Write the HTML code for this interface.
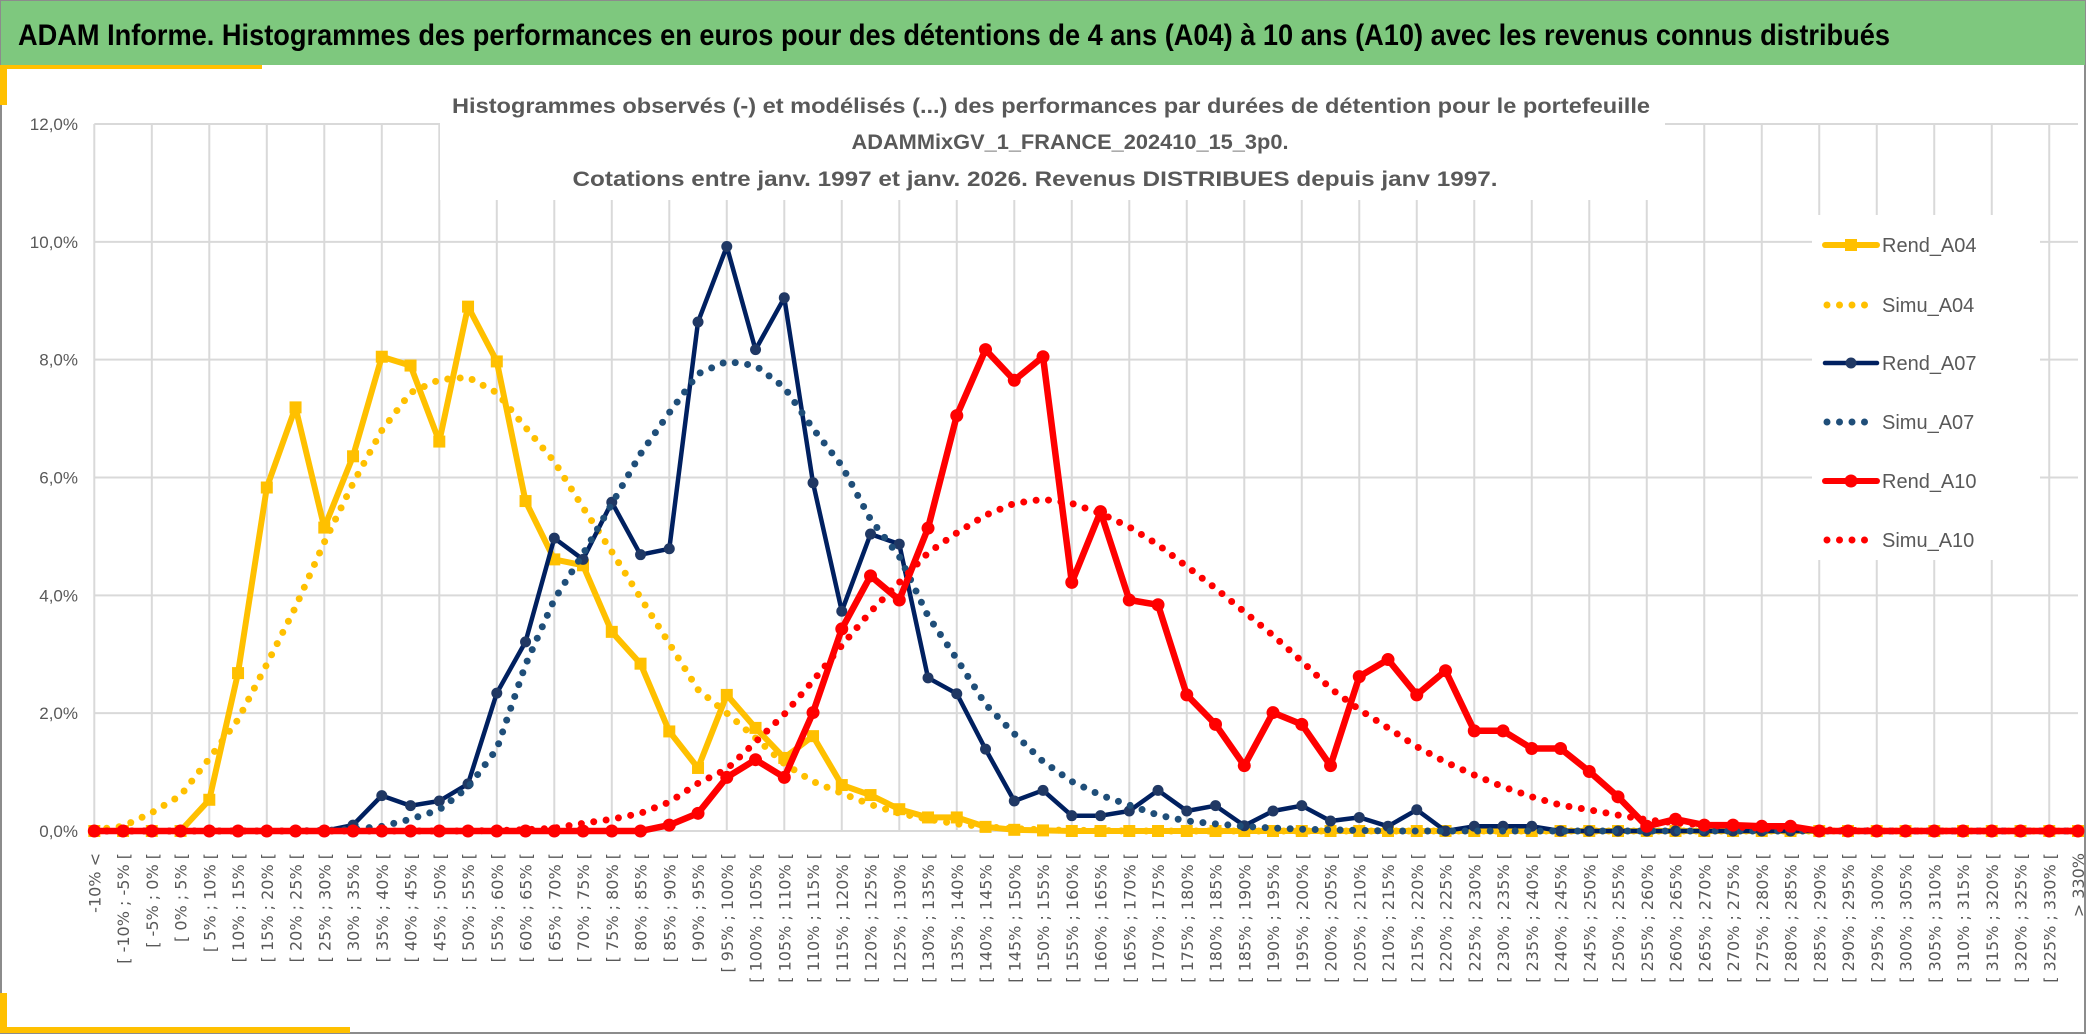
<!DOCTYPE html>
<html><head><meta charset="utf-8"><style>
html,body{margin:0;padding:0;background:#fff;}
svg{display:block;}
</style></head><body>
<svg id="chart" width="2086" height="1034" viewBox="0 0 2086 1034" xmlns="http://www.w3.org/2000/svg">
<rect x="0" y="0" width="2086" height="1034" fill="#fff"/>
<rect x="1" y="1" width="2084" height="1032" fill="none" stroke="#8c8c8c" stroke-width="2"/>
<rect x="1" y="1" width="2084" height="64" fill="#7ec87e"/>
<text x="18" y="45" font-family="Liberation Sans, sans-serif" font-weight="bold" font-size="30" fill="#000" textLength="1872" lengthAdjust="spacingAndGlyphs">ADAM Informe. Histogrammes des performances en euros pour des détentions de 4 ans (A04) à 10 ans (A10) avec les revenus connus distribués</text>
<rect x="0" y="65" width="262" height="4" fill="#ffc000"/>
<rect x="0" y="65" width="7" height="40" fill="#ffc000"/>
<rect x="0" y="1027" width="350" height="6" fill="#ffc000"/>
<rect x="0" y="993" width="7" height="40" fill="#ffc000"/>
<g id="grid"></g>
<g id="ylabels"></g>
<g id="xlabels"></g>
<rect x="440" y="86" width="1225" height="114" fill="#fff"/>
<g font-family="Liberation Sans, sans-serif" font-weight="bold" font-size="21" fill="#595959" text-anchor="middle">
<text x="1051" y="113" textLength="1198" lengthAdjust="spacingAndGlyphs">Histogrammes observés (-) et modélisés (...) des performances  par durées de détention pour le portefeuille</text>
<text x="1070" y="149" textLength="437" lengthAdjust="spacingAndGlyphs">ADAMMixGV_1_FRANCE_202410_15_3p0.</text>
<text x="1035" y="186" textLength="925" lengthAdjust="spacingAndGlyphs">Cotations entre janv. 1997 et janv. 2026. Revenus DISTRIBUES depuis janv 1997.</text>
</g>
<g id="series"></g>
<rect x="1812" y="215" width="228" height="345" fill="#fff"/>
<g id="legend"></g>
</svg>
<script>
const categories = (function(){const a=["-10% <"];for(let v=-10;v<330;v+=5)a.push("[ "+v+"% ; "+(v+5)+"% [");a.push("> 330%");return a;})();
const yTicks = [0,2,4,6,8,10,12];
const yTickLabels = ["0,0%","2,0%","4,0%","6,0%","8,0%","10,0%","12,0%"];
const rendA04 = [0,0,0,0,0.53,2.68,5.83,7.19,5.15,6.36,8.05,7.9,6.61,8.9,7.97,5.6,4.61,4.51,3.38,2.84,1.69,1.07,2.31,1.75,1.24,1.61,0.78,0.61,0.37,0.23,0.23,0.07,0.02,0.01,0,0,0,0,0,0,0,0,0,0,0,0,0,0,0,0,0,0,0,0,0,0,0,0,0,0,0,0,0,0,0,0,0,0,0,0];
const simuA04 = [0.02,0.08,0.31,0.6,1.23,1.89,2.83,3.8,4.9,5.9,6.8,7.44,7.66,7.7,7.44,6.85,6.27,5.49,4.74,3.96,3.18,2.4,2.0,1.58,1.14,0.84,0.64,0.45,0.3,0.2,0.12,0.07,0.04,0.02,0.01,0.01,0,0,0,0,0,0,0,0,0,0,0,0,0,0,0,0,0,0,0,0,0,0,0,0,0,0,0,0,0,0,0,0,0,0];
const rendA07 = [0,0,0,0,0,0,0,0,0,0.1,0.6,0.43,0.51,0.8,2.34,3.21,4.97,4.61,5.58,4.69,4.79,8.64,9.92,8.17,9.05,5.91,3.73,5.04,4.87,2.6,2.33,1.39,0.51,0.69,0.26,0.26,0.34,0.69,0.34,0.43,0.09,0.34,0.43,0.17,0.23,0.08,0.36,0,0.08,0.08,0.08,0,0,0,0,0,0,0,0,0,0,0,0,0,0,0,0,0,0,0];
const simuA07 = [0,0,0,0,0,0,0,0,0.01,0.03,0.08,0.2,0.36,0.74,1.39,2.82,3.93,4.7,5.55,6.4,7.1,7.76,7.97,7.9,7.53,6.83,6.2,5.29,4.66,3.65,2.92,2.15,1.65,1.18,0.84,0.61,0.44,0.27,0.17,0.12,0.08,0.05,0.03,0.02,0.01,0,0,0,0,0,0,0,0,0,0,0,0,0,0,0,0,0,0,0,0,0,0,0,0,0];
const rendA10 = [0,0,0,0,0,0,0,0,0,0,0,0,0,0,0,0,0,0,0,0,0.1,0.3,0.91,1.21,0.91,2.01,3.43,4.33,3.92,5.14,7.05,8.17,7.65,8.05,4.22,5.42,3.92,3.84,2.31,1.81,1.11,2.01,1.81,1.11,2.62,2.91,2.31,2.72,1.7,1.7,1.4,1.4,1.01,0.58,0.08,0.2,0.1,0.1,0.08,0.08,0,0,0,0,0,0,0,0,0,0];
const simuA10 = [0,0,0,0,0,0,0,0,0,0,0,0,0,0,0.01,0.02,0.05,0.13,0.2,0.3,0.49,0.81,1.05,1.51,1.98,2.55,3.15,3.72,4.22,4.72,5.06,5.36,5.56,5.63,5.56,5.39,5.16,4.86,4.49,4.12,3.72,3.32,2.88,2.42,2.06,1.75,1.43,1.17,0.95,0.75,0.58,0.44,0.36,0.27,0.19,0.14,0.1,0.07,0.05,0.03,0.02,0.01,0,0,0,0,0,0,0,0];
const seriesNames = ["Rend_A04","Simu_A04","Rend_A07","Simu_A07","Rend_A10","Simu_A10"];

const NS="http://www.w3.org/2000/svg";
const X0=94.3, X1=2078, Y0=831, Y12=124;
function xPos(i){return X0+(X1-X0)*i/(categories.length-1);}
function yPos(v){return Y0-(Y0-Y12)*v/12;}
function mk(tag,attrs,parent){const e=document.createElementNS(NS,tag);for(const k in attrs)e.setAttribute(k,attrs[k]);parent.appendChild(e);return e;}

const grid=document.getElementById('grid');
yTicks.forEach(function(t,k){
  const l=mk('line',{x1:X0,x2:X1,y1:yPos(t),y2:yPos(t),stroke:'#d9d9d9','stroke-width':2},grid);
  
  
  const tx=mk('text',{x:78,y:yPos(t)+6,'text-anchor':'end','font-family':'Liberation Sans, sans-serif','font-size':17,fill:'#595959'},document.getElementById('ylabels'));
  tx.textContent=yTickLabels[k];
  
  
});
categories.forEach(function(c,i){
  if(i%2===0){
    const l=mk('line',{x1:xPos(i),x2:xPos(i),y1:Y12,y2:Y0,stroke:'#d9d9d9','stroke-width':2},grid);
    
    
  }
  const x=xPos(i)+6,y=853;
  const tx=mk('text',{x:x,y:y,'text-anchor':'end','font-family':'DejaVu Sans, sans-serif','font-size':16,fill:'#595959',transform:'rotate(-90 '+x+' '+y+')'},document.getElementById('xlabels'));
  tx.textContent=c;
  
  
});

const layer=document.getElementById('series');
function pts(arr){return arr.map(function(v,i){return xPos(i).toFixed(1)+','+yPos(v).toFixed(1);}).join(' ');}
function drawSolid(arr,color,w,marker,mcolor,name){
  const g=mk('g',{},layer);
  
  
  const p=mk('polyline',{points:pts(arr),fill:'none',stroke:color,'stroke-width':w,'stroke-linejoin':'round'},g);
  
  
  arr.forEach(function(v,i){
    let m;
    if(marker==='square'){m=mk('rect',{x:xPos(i)-6,y:yPos(v)-6,width:12,height:12,fill:mcolor},g);}
    else{m=mk('circle',{cx:xPos(i),cy:yPos(v),r:marker==='bigcircle'?6.5:5.5,fill:mcolor},g);}
    
    
  });
}
function drawDotted(arr,color,name){
  const p=mk('polyline',{points:pts(arr),fill:'none',stroke:color,'stroke-width':7,'stroke-linecap':'round','stroke-dasharray':'0 12.5'},layer);
  
  
}
drawSolid(rendA04,'#ffc000',6,'square','#ffc000','rend-a04');
drawDotted(simuA04,'#ffc000','simu-a04');
drawSolid(rendA07,'#002060',4.5,'circle','#203864','rend-a07');
drawDotted(simuA07,'#1f4e79','simu-a07');
drawSolid(rendA10,'#ff0000',6.5,'bigcircle','#ff0000','rend-a10');
drawDotted(simuA10,'#ff0000','simu-a10');

const lg=document.getElementById('legend');
const legendColors=['#ffc000','#ffc000','#002060','#1f4e79','#ff0000','#ff0000'];
const legendY=[245,305,363,422,481,540];
seriesNames.forEach(function(n,k){
  const g=mk('g',{},lg);
  
  
  const y=legendY[k],c=legendColors[k];
  if(k%2===0){
    mk('line',{x1:1825,x2:1877,y1:y,y2:y,stroke:c,'stroke-width':k===2?4.5:6,'stroke-linecap':'round'},g);
    if(k===0)mk('rect',{x:1845,y:y-6,width:12,height:12,fill:c},g);
    else mk('circle',{cx:1851,cy:y,r:k===2?5.5:6.5,fill:k===2?'#203864':c},g);
  } else {
    mk('line',{x1:1827,x2:1867,y1:y,y2:y,stroke:c,'stroke-width':7,'stroke-linecap':'round','stroke-dasharray':'0 12.5'},g);
  }
  const t=mk('text',{x:1882,y:y+7,'font-family':'Liberation Sans, sans-serif','font-size':20,fill:'#595959'},g);
  t.textContent=n;
});
</script>
</body></html>
